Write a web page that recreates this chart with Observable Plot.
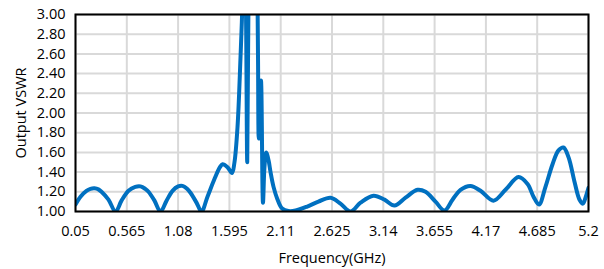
<!DOCTYPE html>
<html>
<head>
<meta charset="utf-8">
<script src="https://cdn.jsdelivr.net/npm/d3@7"></script>
<script src="https://cdn.jsdelivr.net/npm/@observablehq/plot@0.6"></script>
<style>
  html, body { margin: 0; padding: 0; background: #fff; }
  #chart { width: 604px; height: 269px; }
</style>
</head>
<body>
<div id="chart"></div>
<script>
const freqGHz = [
  0.05, 0.100, 0.160, 0.200, 0.241, 0.280, 0.311, 0.381, 0.452,
  0.512, 0.582, 0.650, 0.703, 0.750, 0.783, 0.843, 0.903,
  0.964, 1.024, 1.080, 1.124, 1.170, 1.204, 1.265, 1.315,
  1.375, 1.445, 1.500, 1.526, 1.576, 1.621, 1.646, 1.676, 1.706, 1.732, 1.747, 1.762, 1.774,
  1.787, 1.807, 1.837, 1.867, 1.882, 1.890, 1.912, 1.932, 1.947, 1.964, 1.988, 2.008,
  2.038, 2.075, 2.125, 2.188, 2.259, 2.376, 2.489, 2.610, 2.710, 2.811,
  2.911, 3.042, 3.152, 3.252, 3.363, 3.483, 3.564, 3.664, 3.754,
  3.835, 3.915, 4.015, 4.116, 4.246, 4.367, 4.497, 4.588, 4.648, 4.703,
  4.768, 4.839, 4.899, 4.949, 5.000, 5.060, 5.110, 5.145, 5.170, 5.200
];
const vswr = [
  1.07, 1.15, 1.21, 1.23, 1.235, 1.225, 1.20, 1.12, 1.00,
  1.11, 1.21, 1.25, 1.255, 1.23, 1.20, 1.11, 1.00,
  1.11, 1.21, 1.255, 1.26, 1.23, 1.19, 1.09, 1.00,
  1.15, 1.33, 1.45, 1.48, 1.45, 1.39, 1.50, 1.85, 2.55, 3.30, 4.00, 3.00, 1.50,
  3.20, 4.50, 5.00, 4.00, 2.60, 1.74, 2.33, 1.09, 1.45, 1.60, 1.52, 1.40,
  1.25, 1.13, 1.03, 1.005, 1.01, 1.05, 1.10, 1.14, 1.08, 1.00,
  1.09, 1.16, 1.12, 1.06, 1.14, 1.22, 1.20, 1.10, 1.01,
  1.12, 1.22, 1.26, 1.21, 1.11, 1.22, 1.35, 1.28, 1.15, 1.07,
  1.25, 1.48, 1.62, 1.65, 1.55, 1.30, 1.12, 1.08, 1.14, 1.24
];
const xTicks = [0.05, 0.565, 1.08, 1.595, 2.11, 2.625, 3.14, 3.655, 4.17, 4.685, 5.2];
const xTickLabels = ["0.05", "0.565", "1.08", "1.595", "2.11", "2.625", "3.14", "3.655", "4.17", "4.685", "5.2"];
const yTicks = [1.0, 1.2, 1.4, 1.6, 1.8, 2.0, 2.2, 2.4, 2.6, 2.8, 3.0];
const yTickLabels = ["1.00", "1.20", "1.40", "1.60", "1.80", "2.00", "2.20", "2.40", "2.60", "2.80", "3.00"];
const xTitle = "Frequency(GHz)";
const yTitle = "Output VSWR";

const data = freqGHz.map((f, i) => ({f, v: vswr[i]}));

const chart = Plot.plot({
  width: 604,
  height: 269,
  marginLeft: 75,
  marginRight: 16,
  marginTop: 14,
  marginBottom: 58,
  style: {fontFamily: "'Open Sans', sans-serif", fontSize: "14.5px", color: "#000", background: "#fff"},
  x: {domain: [0.05, 5.2]},
  y: {domain: [1, 3]},
  marks: [
    Plot.gridX(xTicks, {stroke: "#d9d9d9", strokeOpacity: 1, strokeWidth: 2}),
    Plot.gridY(yTicks, {stroke: "#d9d9d9", strokeOpacity: 1, strokeWidth: 2}),
    Plot.line(data, {x: "f", y: "v", stroke: "#0070C0", strokeWidth: 4, curve: "catmull-rom", strokeLinejoin: "round", strokeLinecap: "round", clip: true}),
    Plot.frame({stroke: "#000", strokeWidth: 2}),
    Plot.axisX(xTicks, {tickSize: 0, tickPadding: 14, tickFormat: (d, i) => xTickLabels[i], label: xTitle, labelAnchor: "center", labelArrow: "none", labelOffset: 51, fontSize: 14.5}),
    Plot.axisY(yTicks, {tickSize: 0, tickPadding: 10, tickFormat: (d, i) => yTickLabels[i], label: yTitle, labelAnchor: "center", labelArrow: "none", labelOffset: 60, fontSize: 14.5})
  ]
});
document.getElementById("chart").appendChild(chart);
</script>
</body>
</html>
